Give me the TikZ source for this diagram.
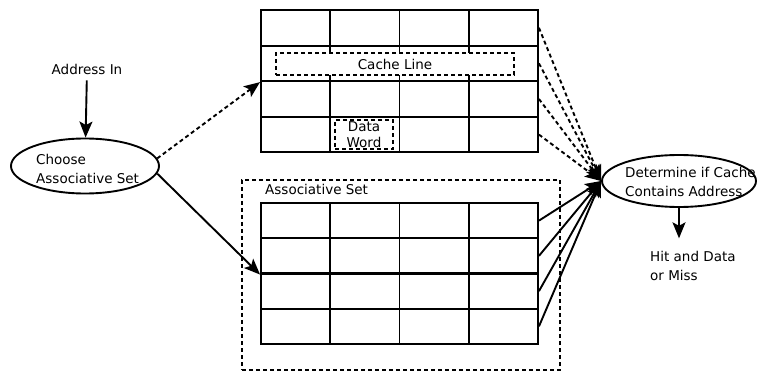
\documentclass[tikz,border=0pt]{standalone}
\usepackage{fontspec}
\setmainfont{DejaVu Sans}
\usetikzlibrary{arrows.meta, positioning, shapes.geometric}

\begin{document}
\begin{tikzpicture}[x=1pt, y=-1pt, font=\fontsize{13.5}{18.5}\selectfont]
  \tikzset{
    cell/.style={rectangle, draw=black, line width=1.9pt,
                 minimum width=69.25pt, minimum height=35.5pt, inner sep=0pt},
    oval/.style={ellipse, draw=black, line width=1.9pt, inner sep=0pt},
    dbox/.style={rectangle, draw=black, line width=1.9pt,
                 dash pattern=on 4pt off 3pt, inner sep=0pt},
    txt/.style={inner sep=0pt, align=left},
    arr/.style={-{Stealth[length=16pt, width=13pt, inset=3.5pt]}, line width=1.9pt},
    darr/.style={arr, dash pattern=on 4pt off 3pt}
  }
  \useasboundingbox (0,0) rectangle (757,371);

  % associative set frame
  \node[dbox, minimum width=318pt, minimum height=190pt] (aset) at (401,275) {};
  \node[txt, anchor=base west] (asetlbl) at (265,195) {Associative Set};

  % the two grids
  \foreach \r in {1,...,4}
    \foreach \c in {1,...,4} {
      \node[cell] (t-\r-\c) at ({261+69.25*(\c-0.5)}, {10+35.6*(\r-0.5)}) {};
      \node[cell] (b-\r-\c) at ({261+69.25*(\c-0.5)}, {203+35.25*(\r-0.5)}) {};
    }
  \node[dbox, fill=white, minimum width=238pt, minimum height=22pt] (cline) at (395,64) {Cache Line};
  \node[dbox, fill=white, minimum width=58pt, minimum height=29pt, align=center,
        font=\fontsize{13.5}{16}\selectfont] (dword) at (364,134.5) {Data\\Word};

  % left side
  \node[txt, anchor=base] (addr) at (87,75) {Address In};
  \node[oval, minimum width=148pt, minimum height=55pt] (choose) at (85,166) {};
  \node[txt, anchor=west] (choosetxt) at (36,169) {Choose\\Associative Set};

  % right side
  \node[oval, minimum width=154pt, minimum height=52pt] (det) at (679,181) {};
  \node[txt, anchor=west] (dettxt) at (625,182) {Determine if Cache\\Contains Address};
  \node[txt, anchor=west] (hit) at (650,266) {Hit and Data\\or Miss};

  \draw[arr, shorten <=5pt] (addr) -- (choose);
  \draw[darr] (choose.6) -- (t-2-1.south west);
  \draw[arr] (choose.-6) -- (b-2-1.south west);
  \foreach \r in {1,...,4} {
    \draw[darr] (t-\r-4.east) -- (det.west);
    \draw[arr] (b-\r-4.east) -- (det.west);
  }
  \draw[arr, shorten >=13pt] (det.south) -- (det.south |- hit.north);
\end{tikzpicture}
\end{document}
